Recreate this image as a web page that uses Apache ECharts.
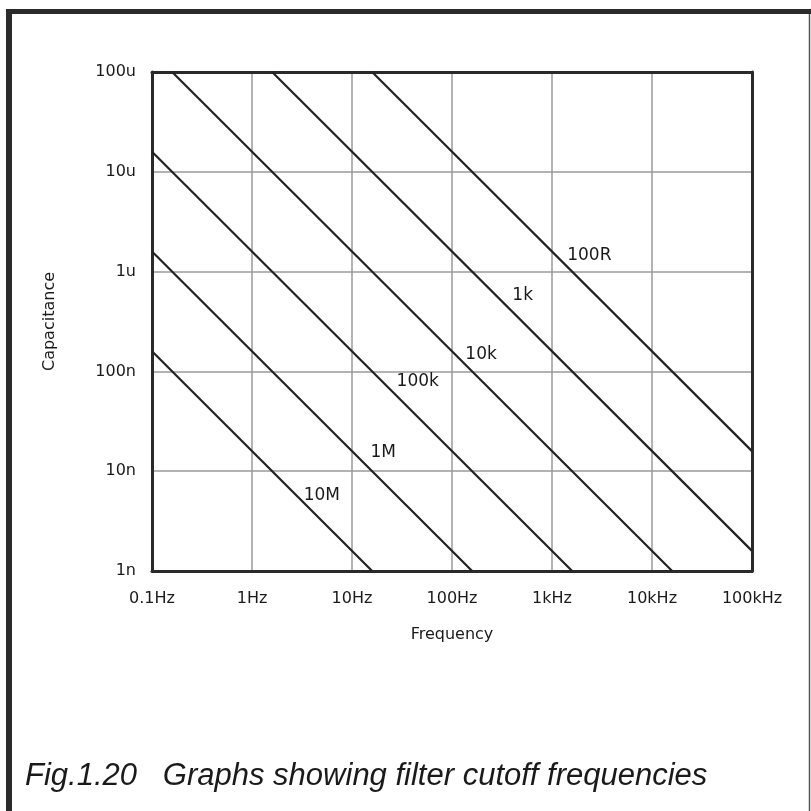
<!DOCTYPE html>
<html>
<head>
<meta charset="utf-8">
<script src="https://cdn.jsdelivr.net/npm/echarts@6/dist/echarts.min.js"></script>
<style>
html,body{margin:0;padding:0;background:#fff;}
#chart{width:811px;height:811px;}
</style>
</head>
<body>
<div id="chart"></div>
<script>
// Frequency in Hz, capacitance in nF
const xTickValues = [0.1, 1, 10, 100, 1000, 10000, 100000];
const xTickLabels = ['0.1Hz', '1Hz', '10Hz', '100Hz', '1kHz', '10kHz', '100kHz'];
const yTickValues = [1, 10, 100, 1000, 10000, 100000];
const yTickLabels = ['1n', '10n', '100n', '1u', '10u', '100u'];

const resistorNames = ['100R', '1k', '10k', '100k', '1M', '10M'];
const lineStartFreq = [15.9, 1.59, 0.159, 0.1, 0.1, 0.1];
const lineStartCap  = [100000, 100000, 100000, 15900, 1590, 159];
const lineEndFreq   = [100000, 100000, 15900, 1590, 159, 15.9];
const lineEndCap    = [15.9, 1.59, 1, 1, 1, 1];
const labelFreq     = [1419, 401, 136, 27.9, 15.3, 3.29];
const labelCap      = [1452, 578, 146, 78.2, 15.3, 5.68];

function tickText(values, labels, v) {
  let best = 0, bd = Infinity;
  for (let i = 0; i < values.length; i++) {
    const d = Math.abs(Math.log10(v) - Math.log10(values[i]));
    if (d < bd) { bd = d; best = i; }
  }
  return bd < 0.01 ? labels[best] : '';
}

const FONT = '"DejaVu Sans", Verdana, sans-serif';
const TXT = '#1a1a1a';
const lineSeries = resistorNames.map((name, i) => ({
  name: name,
  type: 'line',
  showSymbol: false,
  symbol: 'none',
  silent: true,
  lineStyle: { color: '#222', width: 2.2 },
  data: [[lineStartFreq[i], lineStartCap[i]], [lineEndFreq[i], lineEndCap[i]]],
  z: 5
}));

const labelSeries = {
  type: 'scatter',
  symbolSize: 0,
  silent: true,
  itemStyle: { opacity: 1 },
  data: resistorNames.map((n, i) => ({ value: [labelFreq[i], labelCap[i]], name: n })),
  label: {
    show: true,
    position: [0, 0],
    align: 'left',
    verticalAlign: 'middle',
    formatter: p => p.name,
    fontFamily: FONT,
    fontSize: 17,
    color: TXT,
    opacity: 1
  },
  emphasis: { disabled: true },
  z: 6
};

const borderLine = { show: true, onZero: false, lineStyle: { color: '#2a2a2a', width: 3 } };

const chart = echarts.init(document.getElementById('chart'), null, { renderer: 'canvas' });
chart.setOption({
  backgroundColor: '#fff',
  animation: false,
  grid: { left: 152, top: 72, right: 59, bottom: 240 },
  xAxis: [{
    type: 'log', logBase: 10, min: 0.1, max: 100000,
    name: 'Frequency', nameLocation: 'middle', nameGap: 56,
    nameTextStyle: { fontFamily: FONT, fontSize: 16, color: TXT },
    axisLine: borderLine,
    axisTick: { show: false },
    minorTick: { show: false },
    splitLine: { show: true, lineStyle: { color: '#9a9a9a', width: 1.5 } },
    axisLabel: {
      fontFamily: FONT, fontSize: 16, color: TXT, margin: 20,
      showMinLabel: true, showMaxLabel: true,
      formatter: v => tickText(xTickValues, xTickLabels, v)
    }
  }, {
    type: 'log', logBase: 10, min: 0.1, max: 100000, position: 'top',
    axisLine: borderLine, axisTick: { show: false }, axisLabel: { show: false }, splitLine: { show: false }
  }],
  yAxis: [{
    type: 'log', logBase: 10, min: 1, max: 100000,
    name: 'Capacitance', nameLocation: 'middle', nameGap: 94, nameRotate: 90,
    nameTextStyle: { fontFamily: FONT, fontSize: 16, color: TXT },
    axisLine: borderLine,
    axisTick: { show: false },
    splitLine: { show: true, lineStyle: { color: '#9a9a9a', width: 1.5 } },
    axisLabel: {
      fontFamily: FONT, fontSize: 16, color: TXT, margin: 16,
      showMinLabel: true, showMaxLabel: true,
      formatter: v => tickText(yTickValues, yTickLabels, v)
    }
  }, {
    type: 'log', logBase: 10, min: 1, max: 100000, position: 'right',
    axisLine: borderLine, axisTick: { show: false }, axisLabel: { show: false }, splitLine: { show: false }
  }],
  series: lineSeries.concat([labelSeries]),
  graphic: [
    { type: 'rect', shape: { x: 6, y: 9, width: 6, height: 802 }, style: { fill: '#2b2b2b' }, silent: true },
    { type: 'rect', shape: { x: 6, y: 9, width: 805, height: 5 }, style: { fill: '#2b2b2b' }, silent: true },
    { type: 'line', shape: { x1: 809.5, y1: 14, x2: 809.5, y2: 811 }, style: { stroke: '#555', lineWidth: 1.5 }, silent: true },
    {
      type: 'text', left: 25, top: 761, silent: true,
      style: {
        text: 'Fig.1.20   Graphs showing filter cutoff frequencies',
        font: 'italic 31px "Liberation Sans", Arial, sans-serif',
        fill: TXT
      }
    }
  ]
});
</script>
</body>
</html>
